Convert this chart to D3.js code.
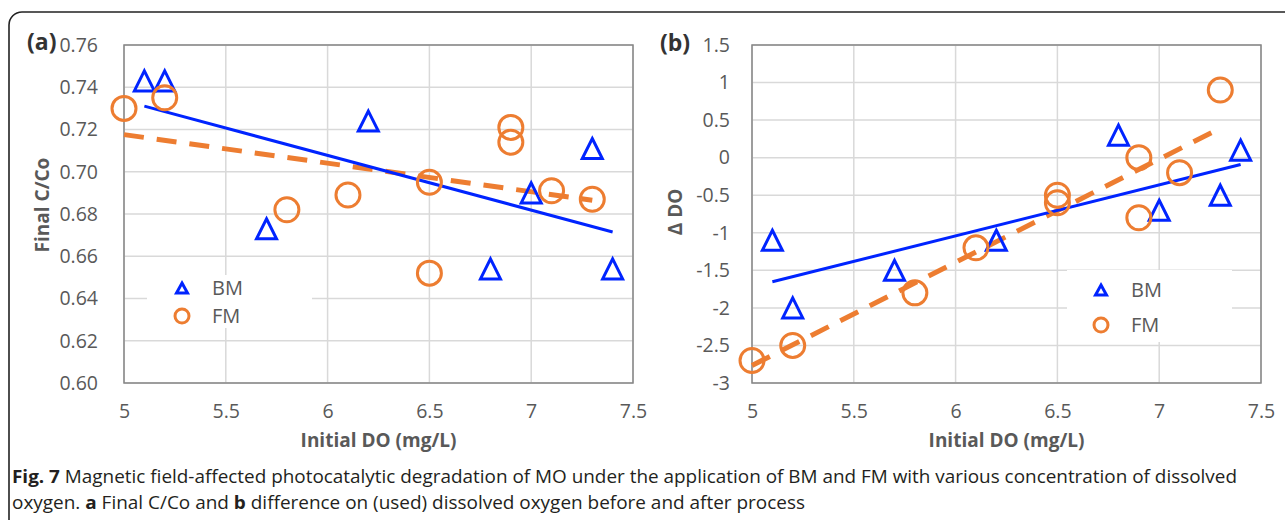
<!DOCTYPE html>
<head>
    <script src="https://d3js.org/d3.v7.min.js"></script>
    <style>
        body { margin: 0; background: #fff; }
        text { font-family: "Open Sans", "Noto Sans", sans-serif; }
    </style>
</head>

<body>
    <div id="chart"></div>
</body>

<script>

    // panel (a) : Final C/Co
    const bmDO_a = [5.1, 5.2, 5.7, 6.2, 6.8, 7.0, 7.3, 7.4];
    const bmC_a  = [0.743, 0.743, 0.673, 0.724, 0.654, 0.690, 0.711, 0.654];
    const fmDO_a = [5.0, 5.2, 5.8, 6.1, 6.5, 6.5, 6.9, 6.9, 7.1, 7.3];
    const fmC_a  = [0.730, 0.735, 0.682, 0.689, 0.695, 0.652, 0.721, 0.714, 0.691, 0.687];

    // panel (b) : delta DO
    const bmDO_b = [5.1, 5.2, 5.7, 6.2, 6.8, 7.0, 7.3, 7.4];
    const bmD_b  = [-1.1, -2.0, -1.5, -1.1, 0.3, -0.7, -0.5, 0.1];
    const fmDO_b = [5.0, 5.2, 5.8, 6.1, 6.5, 6.5, 6.9, 6.9, 7.1, 7.3];
    const fmD_b  = [-2.7, -2.5, -1.8, -1.2, -0.5, -0.6, 0.0, -0.8, -0.2, 0.9];

    const xTicks  = [5, 5.5, 6, 6.5, 7, 7.5];
    const yTicksA = [0.60, 0.62, 0.64, 0.66, 0.68, 0.70, 0.72, 0.74, 0.76];
    const yTicksB = [-3, -2.5, -2, -1.5, -1, -0.5, 0, 0.5, 1, 1.5];
    const seriesNames = ["BM", "FM"];

    const blue = "#0024ff", orange = "#ed7d31", grey = "#595959";

    const svg = d3.select("#chart").append("svg")
        .attr("width", 1285).attr("height", 520);

    // outer frame (open to the right and bottom)
    svg.append("rect")
        .attr("x", 9).attr("y", 12)
        .attr("width", 1320).attr("height", 560)
        .attr("rx", 13)
        .attr("fill", "none").attr("stroke", "#222").attr("stroke-width", 1.6);

    // least squares line, same as the excel trendline
    function fit(xs, ys){
        const mx = d3.mean(xs), my = d3.mean(ys);
        let sxy = 0, sxx = 0;
        xs.forEach((x,i)=>{ sxy += (x-mx)*(ys[i]-my); sxx += (x-mx)*(x-mx); });
        const b = sxy/sxx, a = my - b*mx;
        const x0 = d3.min(xs), x1 = d3.max(xs);
        return [[x0, a+b*x0], [x1, a+b*x1]];
    }

    const triPath = (w, h) => `M0,${-h/2}L${w/2},${h/2}L${-w/2},${h/2}Z`;

    function panel(o){
        const g = svg.append("g");
        const x = d3.scaleLinear().domain([5, 7.5]).range([o.left, o.left + 509]);
        const y = d3.scaleLinear().domain(o.ydom).range([383, 45]);

        // grid
        g.append("g").selectAll("line.h").data(o.yTicks).enter()
            .append("line")
            .attr("x1", x(5)).attr("x2", x(7.5))
            .attr("y1", d=>y(d)).attr("y2", d=>y(d))
            .attr("stroke", "#d9d9d9").attr("stroke-width", 1.5);
        g.append("g").selectAll("line.v").data(xTicks).enter()
            .append("line")
            .attr("x1", d=>x(d)).attr("x2", d=>x(d))
            .attr("y1", y(o.ydom[0])).attr("y2", y(o.ydom[1]))
            .attr("stroke", "#d9d9d9").attr("stroke-width", 1.5);

        // legend background hides the grid
        g.append("rect")
            .attr("x", o.leg[0]).attr("y", o.leg[1])
            .attr("width", 165).attr("height", o.leg[2])
            .attr("fill", "#fff");

        // plot border
        g.append("rect")
            .attr("x", x(5)).attr("y", y(o.ydom[1]))
            .attr("width", x(7.5)-x(5)).attr("height", y(o.ydom[0])-y(o.ydom[1]))
            .attr("fill", "none").attr("stroke", "#868686").attr("stroke-width", 1.5);

        // axes
        const ya = g.append("g").attr("transform", `translate(${x(5)},0)`)
            .call(d3.axisLeft(y).tickValues(o.yTicks).tickSize(0).tickPadding(o.pad).tickFormat(o.fmt));
        const xa = g.append("g").attr("transform", `translate(0,${y(o.ydom[0])})`)
            .call(d3.axisBottom(x).tickValues(xTicks).tickSize(0).tickPadding(21).tickFormat(d=>String(d)));
        [ya, xa].forEach(a=>{
            a.select(".domain").remove();
            a.selectAll("text").attr("font-size", 19.5).attr("fill", grey)
                .attr("font-family", "'Open Sans', sans-serif");
        });

        // titles
        g.append("text")
            .attr("x", (x(5)+x(7.5))/2).attr("y", 447)
            .attr("text-anchor", "middle")
            .attr("font-size", 19).attr("font-weight", "bold").attr("fill", grey)
            .text("Initial DO (mg/L)");
        g.append("text")
            .attr("transform", `translate(${o.ytx},${o.yty}) rotate(-90)`)
            .attr("text-anchor", "middle").attr("dy", "0.35em")
            .attr("font-size", 19).attr("font-weight", "bold").attr("fill", grey)
            .text(o.ytitle);
        g.append("text")
            .attr("x", o.tag[0]).attr("y", o.tag[1])
            .attr("font-size", 23).attr("font-weight", "bold").attr("fill", "#333")
            .text(o.label);

        // trendlines
        const line = d3.line().x(d=>x(d[0])).y(d=>y(d[1]));
        g.append("path")
            .attr("d", line(fit(o.fmX, o.fmY)))
            .attr("fill", "none").attr("stroke", orange).attr("stroke-width", 5)
            .attr("stroke-dasharray", "20,13");
        g.append("path")
            .attr("d", line(fit(o.bmX, o.bmY)))
            .attr("fill", "none").attr("stroke", blue).attr("stroke-width", 3);

        // markers
        g.append("g").selectAll("path").data(d3.zip(o.bmX, o.bmY)).enter()
            .append("path")
            .attr("transform", d=>`translate(${x(d[0])},${y(d[1])})`)
            .attr("d", triPath(20, 20))
            .attr("fill", "none").attr("stroke", blue).attr("stroke-width", 3)
            .attr("stroke-linejoin", "miter");
        g.append("g").selectAll("circle").data(d3.zip(o.fmX, o.fmY)).enter()
            .append("circle")
            .attr("cx", d=>x(d[0])).attr("cy", d=>y(d[1])).attr("r", 12)
            .attr("fill", "none").attr("stroke", orange).attr("stroke-width", 3);

        // legend
        const lg = g.append("g");
        seriesNames.forEach((s,i)=>{
            const cy = o.legY[i];
            if(i===0){
                lg.append("path")
                    .attr("transform", `translate(${o.legX},${cy})`)
                    .attr("d", triPath(11, 10))
                    .attr("fill", "none").attr("stroke", blue).attr("stroke-width", 3);
            } else {
                lg.append("circle")
                    .attr("cx", o.legX).attr("cy", cy).attr("r", 7)
                    .attr("fill", "none").attr("stroke", orange).attr("stroke-width", 3);
            }
            lg.append("text")
                .attr("x", o.legX + 30).attr("y", cy).attr("dy", "0.35em")
                .attr("font-size", 20).attr("fill", grey)
                .text(s);
        });
    }

    panel({
        left: 124, ydom: [0.60, 0.76], yTicks: yTicksA, fmt: d3.format(".2f"), pad: 26,
        bmX: bmDO_a, bmY: bmC_a, fmX: fmDO_a, fmY: fmC_a,
        ytitle: "Final C/Co", ytx: 42, yty: 205, label: "(a)", tag: [27, 50],
        leg: [147, 275, 53], legX: 182, legY: [288, 316]
    });

    panel({
        left: 752, ydom: [-3, 1.5], yTicks: yTicksB, fmt: d=>String(d), pad: 22,
        bmX: bmDO_b, bmY: bmD_b, fmX: fmDO_b, fmY: fmD_b,
        ytitle: "Δ DO", ytx: 675, yty: 212, label: "(b)", tag: [660, 51],
        leg: [1067, 270, 72], legX: 1101, legY: [290, 325]
    });

    // caption
    const cap = svg.append("g").attr("fill", "#231f20")
        .attr("font-family", "'Liberation Sans Narrow', 'Open Sans', sans-serif")
        .attr("font-size", 17.5);
    const l1 = cap.append("text").attr("x", 12).attr("y", 483)
        .attr("textLength", 1225).attr("lengthAdjust", "spacingAndGlyphs");
    l1.append("tspan").attr("font-weight", "bold").text("Fig. 7");
    l1.append("tspan").text(" Magnetic field-affected photocatalytic degradation of MO under the application of BM and FM with various concentration of dissolved");
    const l2 = cap.append("text").attr("x", 12).attr("y", 509)
        .attr("textLength", 793).attr("lengthAdjust", "spacingAndGlyphs");
    l2.append("tspan").text("oxygen. ");
    l2.append("tspan").attr("font-weight", "bold").text("a");
    l2.append("tspan").text(" Final C/Co and ");
    l2.append("tspan").attr("font-weight", "bold").text("b");
    l2.append("tspan").text(" difference on (used) dissolved oxygen before and after process");

</script>
